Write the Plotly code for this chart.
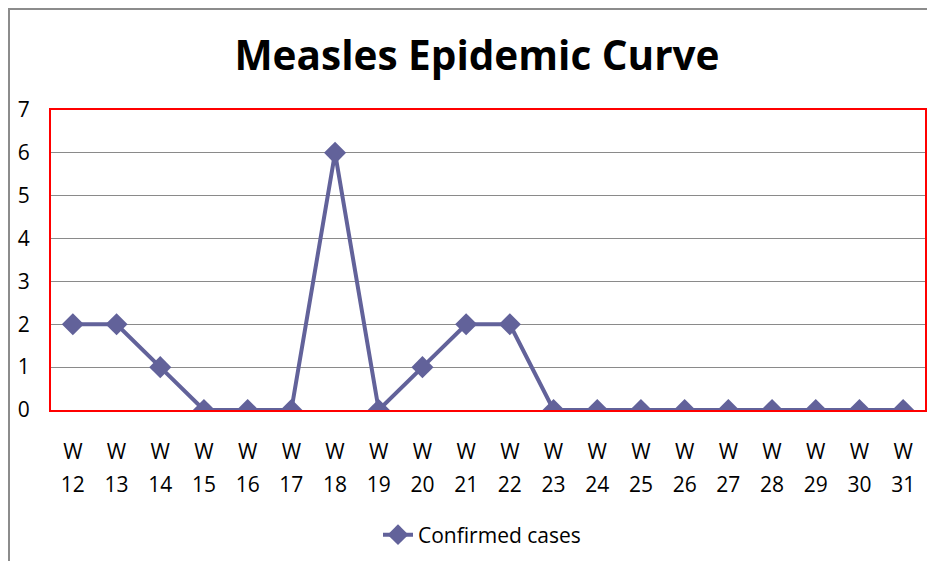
import plotly.graph_objects as go

weeks = [12, 13, 14, 15, 16, 17, 18, 19, 20, 21, 22, 23, 24, 25, 26, 27, 28, 29, 30, 31]
cases = [2, 2, 1, 0, 0, 0, 6, 0, 1, 2, 2, 0, 0, 0, 0, 0, 0, 0, 0, 0]
series_name = "Confirmed cases"
title = "Measles Epidemic Curve"
y_ticks = [0, 1, 2, 3, 4, 5, 6, 7]

idx = list(range(len(weeks)))
FONT = "Open Sans"
COLOR = "#62629A"
TICK = 21

# plot area in figure pixels (page has an 8px body margin)
L, T, PW, PH = 43, 102, 874, 300
W_, H_ = 935, 561

def px(xf):
    return (xf - L) / PW

def py(yf):
    return (T + PH - yf) / PH

fig = go.Figure()
fig.add_trace(go.Scatter(
    x=idx, y=cases, name=series_name, mode="lines+markers",
    line=dict(color=COLOR, width=4),
    marker=dict(symbol="diamond", size=17, color=COLOR),
    xaxis="x", yaxis="y",
))
# invisible helper trace on second x axis (for the number row of tick labels)
fig.add_trace(go.Scatter(
    x=idx, y=cases, mode="lines", line=dict(width=0, color="rgba(0,0,0,0)"),
    showlegend=False, hoverinfo="skip", xaxis="x2", yaxis="y",
))

rng = [-0.5, len(weeks) - 0.5]
fig.update_layout(
    width=W_, height=H_,
    margin=dict(l=L, r=W_ - L - PW, t=T, b=H_ - T - PH, autoexpand=False),
    paper_bgcolor="white", plot_bgcolor="white",
    font=dict(family=FONT, size=TICK, color="black"),
    title=dict(text="<b>" + title + "</b>", x=px(469), xref="paper",
               xanchor="center", y=1 - 48 / H_, yanchor="middle",
               font=dict(family=FONT, size=40.5, color="black")),
    xaxis=dict(range=rng, tickvals=idx, ticktext=["W"] * len(weeks),
               showgrid=False, zeroline=False, ticks="", automargin=False,
               showline=True, mirror=True, linecolor="red", linewidth=2,
               ticklabelstandoff=22, tickfont=dict(size=TICK)),
    xaxis2=dict(range=rng, tickvals=idx, ticktext=[str(w) for w in weeks],
                overlaying="x", side="bottom", anchor="y", automargin=False,
                showgrid=False, zeroline=False, ticks="", showline=False,
                ticklabelstandoff=60, tickfont=dict(size=TICK)),
    yaxis=dict(range=[0, 7], tickvals=y_ticks, showgrid=True, gridcolor="#8a8a8a",
               gridwidth=1, zeroline=False, ticks="", automargin=False,
               showline=True, mirror=True, linecolor="red", linewidth=2,
               ticklabelstandoff=15, tickfont=dict(size=TICK)),
    legend=dict(orientation="h", x=px(370), xanchor="left",
                y=py(527), yanchor="middle",
                font=dict(size=TICK), bgcolor="rgba(0,0,0,0)"),
    showlegend=True,
)
# outer chart-area border (gray)
fig.add_shape(type="rect", xref="paper", yref="paper",
              x0=px(1), x1=px(960), y0=py(600), y1=py(1),
              line=dict(color="#8c8c8c", width=2), layer="below")

fig.write_html("out.html")
